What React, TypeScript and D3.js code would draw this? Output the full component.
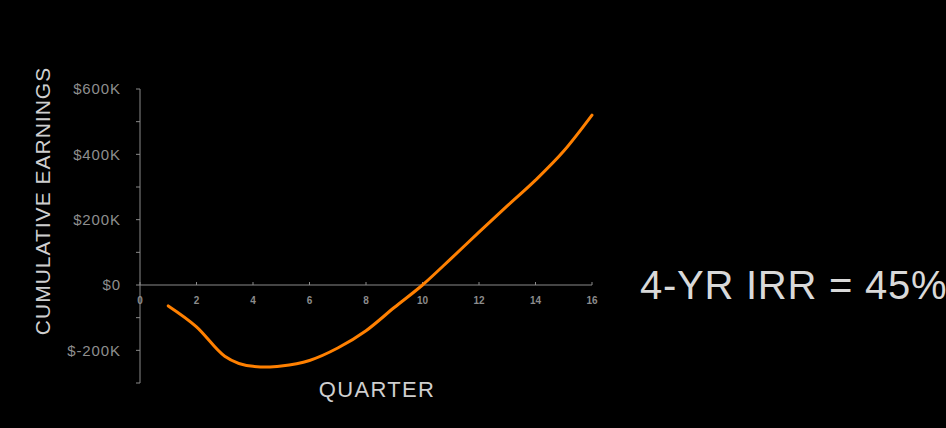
import React from "react";
import * as d3 from "d3";

const quarters = [1, 2, 3, 4, 4.5, 5, 6, 7, 8, 9, 10, 11, 12, 13, 14, 15, 16];
const earnings = [-64, -128, -218, -249, -251, -248, -231, -193, -140, -69, 0, 80, 162, 242, 321, 410, 520];
const yTicks = [600, 400, 200, 0, -200];
const yMinorTicks = [600, 500, 400, 300, 200, 100, 0, -100, -200, -300];
const xTicks = [0, 2, 4, 6, 8, 10, 12, 14, 16];
const yLabels = ["$600K", "$400K", "$200K", "$0", "$-200K"];

const W = 946;
const H = 428;

export default function App() {
  const x = d3.scaleLinear().domain([0, 16]).range([140, 592]);
  const y = d3.scaleLinear().domain([-300, 600]).range([383, 89]);
  const pts: [number, number][] = quarters.map((q, i) => [q, earnings[i]]);
  const line = d3
    .line<[number, number]>()
    .x((d) => x(d[0]))
    .y((d) => y(d[1]))
    .curve(d3.curveMonotoneX);
  const font = "'Liberation Sans', Arial, sans-serif";
  return (
    <div style={{ position: "fixed", left: 0, top: 0, width: W, height: H, background: "#000" }}>
      <svg width={W} height={H} style={{ display: "block" }}>
        <rect x={0} y={0} width={W} height={H} fill="#000" />
        {/* y axis */}
        <line x1={x(0)} x2={x(0)} y1={y(600)} y2={y(-300)} stroke="#8a8a8a" strokeWidth={1} />
        {yMinorTicks.map((t) => (
          <line key={"ym" + t} x1={x(0) - 4} x2={x(0)} y1={y(t)} y2={y(t)} stroke="#8a8a8a" strokeWidth={1} />
        ))}
        {yTicks.map((t, i) => (
          <text
            key={"yl" + t}
            x={121}
            y={y(t)}
            dy="0.36em"
            textAnchor="end"
            fill="#8e8e8e"
            fontSize={15}
            letterSpacing={0.9}
            fontFamily={font}
          >
            {yLabels[i]}
          </text>
        ))}
        {/* x axis */}
        <line x1={x(0)} x2={x(16)} y1={y(0)} y2={y(0)} stroke="#8a8a8a" strokeWidth={1} />
        {xTicks.map((t) => (
          <g key={"x" + t}>
            <line x1={x(t)} x2={x(t)} y1={y(0)} y2={y(0) - 3} stroke="#8a8a8a" strokeWidth={1} />
            <text
              x={x(t)}
              y={y(0) + 19}
              textAnchor="middle"
              fill="#8c8c8c"
              fontSize={10}
              fontWeight="bold"
              fontFamily={font}
            >
              {t}
            </text>
          </g>
        ))}
        {/* data line */}
        <path d={line(pts) || ""} fill="none" stroke="#ff8000" strokeWidth={3} strokeLinecap="round" />
        {/* axis titles */}
        <text
          transform={`translate(50, 201) rotate(-90)`}
          textAnchor="middle"
          fill="#cfcfcf"
          fontSize={21}
          letterSpacing={1}
          fontFamily={font}
        >
          CUMULATIVE EARNINGS
        </text>
        <text x={377} y={397} textAnchor="middle" fill="#cfcfcf" fontSize={22} letterSpacing={1.3} fontFamily={font}>
          QUARTER
        </text>
        <text x={640} y={299} fill="#d9d9d9" fontSize={40} letterSpacing={0.75} fontFamily={font}>
          4-YR IRR = 45%
        </text>
      </svg>
    </div>
  );
}
